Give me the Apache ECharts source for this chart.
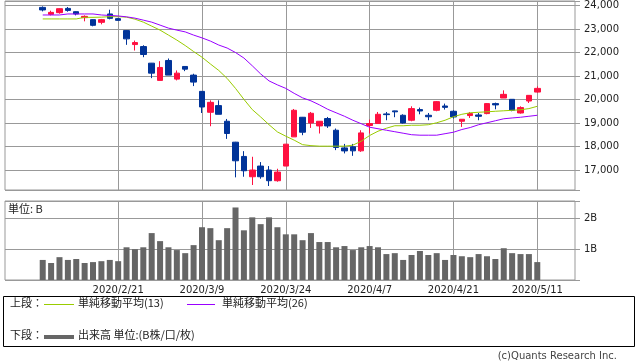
<!DOCTYPE html>
<html><head><meta charset="utf-8">
<script src="https://cdn.jsdelivr.net/npm/echarts@6/dist/echarts.min.js"></script>
<style>html,body{margin:0;padding:0;background:#fff}#c{width:638px;height:362px}</style>
</head><body><div id="c"></div>
<script>
const dates = ['2020/2/7','2020/2/10','2020/2/12','2020/2/13','2020/2/14','2020/2/17','2020/2/18','2020/2/19','2020/2/20','2020/2/21',
'2020/2/25','2020/2/26','2020/2/27','2020/2/28','2020/3/2','2020/3/3','2020/3/4','2020/3/5','2020/3/6','2020/3/9',
'2020/3/10','2020/3/11','2020/3/12','2020/3/13','2020/3/16','2020/3/17','2020/3/18','2020/3/19','2020/3/23','2020/3/24',
'2020/3/25','2020/3/26','2020/3/27','2020/3/30','2020/3/31','2020/4/1','2020/4/2','2020/4/3','2020/4/6','2020/4/7',
'2020/4/8','2020/4/9','2020/4/10','2020/4/13','2020/4/14','2020/4/15','2020/4/16','2020/4/17','2020/4/20','2020/4/21',
'2020/4/22','2020/4/23','2020/4/24','2020/4/27','2020/4/28','2020/4/30','2020/5/1','2020/5/7','2020/5/8','2020/5/11'];
const padBefore = ['2020/2/3','2020/2/4','2020/2/5','2020/2/6'];
const padAfter = ['2020/5/12','2020/5/13','2020/5/14','2020/5/15'];
const opens  = [23928,23631,23703,23885,23745,23490,23406,23291,23648,23448,
22939,22345,22260,21552,20818,21667,20873,21412,21043,20351,
19460,19744,19078,18187,17580,16715,17170,17000,16545,17170,
18413,19248,19007,18879,19193,18696,17943,17988,17818,18896,
18981,19390,19520,19333,19121,19575,19333,19545,19728,19503,
19078,19320,19346,19405,19829,20067,20012,19430,19940,20321];
const closes = [23818,23716,23873,23800,23648,23546,23164,23406,23461,23376,
22587,22430,21921,21128,21369,21043,21128,21297,20746,19685,
19884,19375,18556,17394,16969,17000,16715,16545,16914,18102,
19545,18611,19418,19078,18879,17962,17815,17818,18582,18981,
19375,19360,19480,19007,19617,19515,19270,19914,19670,19261,
19163,19405,19290,19829,19775,20224,19545,19660,20181,20478];
const lows   = [23758,23588,23660,23745,23588,23334,23122,23207,23419,23364,
22333,22091,21806,20915,20818,21043,20818,21212,20576,19430,
18866,19375,18327,16689,16715,16363,16630,16320,16503,17170,
18413,18484,18794,18556,18794,17848,17708,17605,17775,18556,
18981,19121,19250,18981,19078,19375,19121,19503,19575,19193,
18837,19219,19121,19375,19588,20067,19503,19405,19855,20296];
const highs  = [23970,23788,23885,23945,23760,23588,23420,23436,23830,23478,
22950,22515,22316,21560,21637,21751,21242,21420,21102,20360,
19969,19969,19176,18200,17805,17565,17339,17170,17055,18110,
19601,19260,19473,19085,19261,18768,18113,18113,18696,19150,
19473,19473,19530,19375,19715,19660,19430,19940,19830,19545,
19170,19473,19430,19855,19872,20394,20020,19715,20190,20563];
const sma13 = [23436,23436,23436,23436,23436,23504,23504,23512,23533,23533,
23512,23427,23300,23130,22960,22748,22536,22303,22048,21806,
21518,21242,20903,20478,20012,19575,19261,18930,18624,18442,
18272,18081,18039,18017,18017,18017,18017,18060,18230,18471,
18654,18781,18887,18887,18908,18908,18930,19014,19121,19269,
19375,19439,19460,19481,19503,19524,19545,19566,19617,19715];
const sma26 = [23605,23605,23605,23648,23648,23648,23648,23605,23584,23563,
23525,23470,23385,23300,23173,23045,22960,22884,22748,22630,
22494,22324,22197,22006,21772,21441,21094,20797,20627,20478,
20266,20075,19948,19778,19588,19439,19290,19121,18972,18824,
18760,18696,18633,18569,18505,18484,18484,18484,18548,18611,
18726,18811,18930,19014,19099,19184,19218,19248,19290,19333];
const volume = [0.65,0.55,0.74,0.65,0.68,0.55,0.58,0.61,0.65,0.61,
1.06,1.00,1.06,1.52,1.26,1.06,0.97,0.87,1.13,1.71,
1.68,1.29,1.68,2.35,1.61,2.03,1.81,2.03,1.71,1.48,
1.48,1.29,1.52,1.23,1.23,1.06,1.10,0.97,1.06,1.10,
1.06,0.84,0.87,0.65,0.81,0.94,0.81,0.87,0.65,0.81,
0.77,0.74,0.84,0.77,0.68,1.03,0.87,0.84,0.84,0.58];
const labelDates = ['2020/2/21','2020/3/9','2020/3/24','2020/4/7','2020/4/21','2020/5/11'];
const volTickLabels = {1:'1B', 2:'2B'};

const categories = padBefore.concat(dates, padAfter);
const UP = '#ff1040', DOWN = '#003399', GRID = '#999999';
const numFont = 'DejaVu Sans', jpFont = '"Noto Sans CJK JP"';

const candleData = dates.map((d,i)=>[d, opens[i], closes[i], lows[i], highs[i]]);
const vLines = labelDates.map(d=>({xAxis: d}));
const markLineOpt = {silent:true, symbol:['none','none'], z:1, label:{show:false},
  lineStyle:{color:GRID, width:1, type:'solid'}, emphasis:{disabled:true}, animation:false, data:vLines};

const chart = echarts.init(document.getElementById('c'), null, {renderer:'canvas'});
chart.setOption({
  animation:false,
  backgroundColor:'#fff',
  grid:[
    {left:5, top:1, width:570, height:189, show:true, borderColor:GRID, borderWidth:1, backgroundColor:'transparent'},
    {left:5, top:201, width:570, height:79, show:true, borderColor:GRID, borderWidth:1, backgroundColor:'transparent'}
  ],
  xAxis:[
    {type:'category', gridIndex:0, data:categories, boundaryGap:true,
     axisLine:{show:false}, axisTick:{show:false}, axisLabel:{show:false}, splitLine:{show:false}},
    {type:'category', gridIndex:1, data:categories, boundaryGap:true,
     axisLine:{show:false}, axisTick:{show:false}, splitLine:{show:false},
     axisLabel:{show:true, interval:(i,v)=>labelDates.indexOf(v)>=0, margin:5,
       fontFamily:numFont, fontSize:10, color:'#222'}}
  ],
  yAxis:[
    {type:'value', gridIndex:0, position:'right', min:16150, max:24200, splitNumber:8, scale:true,
     axisLine:{show:false}, axisTick:{show:true, inside:false, length:5, lineStyle:{color:GRID}},
     splitLine:{show:true, lineStyle:{color:GRID, width:1}},
     axisLabel:{margin:9, fontFamily:numFont, fontSize:10, color:'#222',
       formatter:v=> (v%1000===0 ? v.toLocaleString('en-US') : '')}},
    {type:'value', gridIndex:1, position:'right', min:0, max:2.56, interval:1,
     axisLine:{show:false}, axisTick:{show:true, length:5, lineStyle:{color:GRID}},
     splitLine:{show:true, lineStyle:{color:GRID, width:1}},
     axisLabel:{margin:9, fontFamily:numFont, fontSize:10, color:'#222',
       formatter:v=> volTickLabels[v] || ''}}
  ],
  series:[
    {type:'candlestick', xAxisIndex:0, yAxisIndex:0, data:candleData, encode:{x:0, y:[1,2,3,4]},
     barWidth:6, itemStyle:{color:UP, color0:DOWN, borderColor:UP, borderColor0:DOWN, borderWidth:1},
     markLine:markLineOpt},
    {type:'line', xAxisIndex:0, yAxisIndex:0, data:dates.map((d,i)=>[d, sma13[i]]), symbol:'none',
     lineStyle:{color:'#99cc00', width:1}, z:3},
    {type:'line', xAxisIndex:0, yAxisIndex:0, data:dates.map((d,i)=>[d, sma26[i]]), symbol:'none',
     lineStyle:{color:'#9900ff', width:1}, z:3},
    {type:'bar', xAxisIndex:1, yAxisIndex:1, data:dates.map((d,i)=>[d, volume[i]]), barWidth:6,
     itemStyle:{color:'#666666'}, markLine:markLineOpt}
  ],
  graphic:[
    {type:'text', left:8, top:203, style:{text:'単位: B', font:'11px '+jpFont, fill:'#222'}},
    {type:'rect', shape:{x:3.5, y:296.5, width:631, height:50}, style:{fill:'none', stroke:'#000', lineWidth:1}},
    {type:'text', left:10, top:297, style:{text:'上段：', font:'11px '+jpFont, fill:'#222'}},
    {type:'line', shape:{x1:44, y1:304.5, x2:74, y2:304.5}, style:{stroke:'#99cc00', lineWidth:1}},
    {type:'text', left:78, top:297, style:{text:'単純移動平均(13)', font:'11px '+jpFont, fill:'#222'}},
    {type:'line', shape:{x1:187, y1:304.5, x2:215, y2:304.5}, style:{stroke:'#9900ff', lineWidth:1}},
    {type:'text', left:222, top:297, style:{text:'単純移動平均(26)', font:'11px '+jpFont, fill:'#222'}},
    {type:'text', left:10, top:329, style:{text:'下段：', font:'11px '+jpFont, fill:'#222'}},
    {type:'rect', shape:{x:44, y:335, width:30, height:4}, style:{fill:'#666666'}},
    {type:'text', left:78, top:329, style:{text:'出来高 単位:(B株/口/枚)', font:'11px '+jpFont, fill:'#222'}},
    {type:'text', right:21, top:351, style:{text:'(c)Quants Research Inc.', font:'10px '+numFont, fill:'#444'}}
  ]
});
</script></body></html>
